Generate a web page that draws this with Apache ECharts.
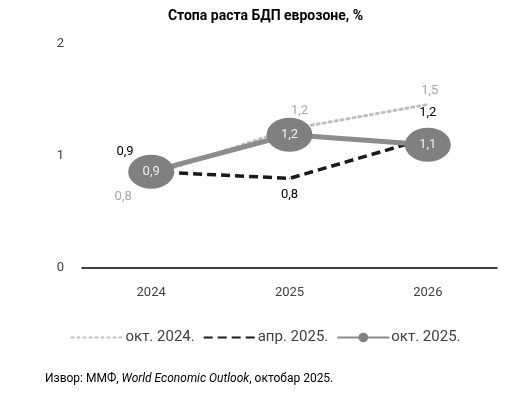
<!DOCTYPE html>
<html><head><meta charset="utf-8">
<script src="https://cdn.jsdelivr.net/npm/echarts@6/dist/echarts.min.js"></script>
<style>html,body{margin:0;padding:0;background:#fff}#c{width:531px;height:394px}</style>
</head><body><div id="c"></div>
<script>
const categories = ['2024', '2025', '2026'];
const seriesNames = ['окт. 2024.', 'апр. 2025.', 'окт. 2025.'];
const oct2024 = [0.83, 1.24, 1.46];
const apr2025 = [0.86, 0.80, 1.16];
const oct2025 = [0.86, 1.19, 1.10];
const yTicks = [0, 1, 2];
const titleText = 'Стопа раста БДП еврозоне, %';
const sourceText = ['Извор: ММФ, ', 'World Economic Outlook', ', октобар 2025.'];

const FONT = 'Roboto';
const fmt = p => p.value.toFixed(1).replace('.', ',');

// label placement styles (per point)
const octLblPos = [{position:'bottom', offset:[-28, 10]}, {position:'top', offset:[10, -6]}, {position:'top', offset:[2, -2]}];
const aprLblPos = [{position:'left', offset:[-12, -20]}, {position:'bottom', offset:[0, 4]}, {position:'top', offset:[0, -13]}];

function mk(vals, pos) {
  return vals.map((v, i) => ({value: v, label: Object.assign({show: true}, pos[i])}));
}

const chart = echarts.init(document.getElementById('c'), null, {renderer: 'canvas'});
chart.setOption({
  animation: false,
  textStyle: {fontFamily: FONT},
  title: {text: titleText, left: 'center', top: 4,
    textStyle: {fontFamily: FONT, fontSize: 14, fontWeight: 'bold', color: '#000'}},
  grid: {left: 82, right: 34, top: 44, bottom: 126},
  legend: {
    bottom: 44, left: 'center', itemWidth: 52, itemHeight: 12, itemGap: 8,
    textStyle: {fontFamily: FONT, fontSize: 15, color: '#404040', padding: [0, 0, 0, -3]},
    data: [
      {name: seriesNames[0], itemStyle: {opacity: 0}},
      {name: seriesNames[1], itemStyle: {opacity: 0}},
      {name: seriesNames[2]}
    ]
  },
  graphic: [{
    type: 'text', left: 45, top: 373,
    style: {
      rich: {n: {fontFamily: FONT, fontSize: 12, fill: '#000'}, i: {fontFamily: FONT, fontSize: 12, fontStyle: 'italic', fill: '#000'}},
      text: '{n|' + sourceText[0] + '}{i|' + sourceText[1] + '}{n|' + sourceText[2] + '}'
    }
  }],
  xAxis: {
    type: 'category', data: categories, boundaryGap: true,
    axisLine: {lineStyle: {color: '#000', width: 1.5}},
    axisTick: {show: false},
    axisLabel: {fontFamily: FONT, fontSize: 13, color: '#404040', margin: 18}
  },
  yAxis: {
    type: 'value', min: 0, max: 2, interval: 1,
    axisLine: {show: false}, axisTick: {show: false}, splitLine: {show: false},
    axisLabel: {fontFamily: FONT, fontSize: 13, color: '#404040', margin: 18,
      formatter: v => yTicks.includes(v) ? String(v) : ''}
  },
  series: [
    {
      name: seriesNames[0], type: 'line', data: mk(oct2024, octLblPos), z: 2,
      symbol: 'circle', symbolSize: 1, showSymbol: true,
      lineStyle: {color: '#bfbfbf', width: 3, type: [2, 4], cap: 'round'},
      itemStyle: {color: '#bfbfbf'},
      label: {formatter: fmt, color: '#a6a6a6', fontFamily: FONT, fontSize: 13}
    },
    {
      name: seriesNames[1], type: 'line', data: mk(apr2025, aprLblPos), z: 3,
      symbol: 'circle', symbolSize: 1, showSymbol: true,
      lineStyle: {color: '#1a1a1a', width: 3.5, type: [9, 5]},
      itemStyle: {color: '#1a1a1a'},
      label: {formatter: fmt, color: '#000', fontFamily: FONT, fontSize: 13}
    },
    {
      name: seriesNames[2], type: 'line', data: oct2025, z: 4,
      symbol: 'circle', symbolSize: [46, 34], showSymbol: true,
      lineStyle: {color: '#8c8c8c', width: 5},
      itemStyle: {color: '#808080'},
      label: {show: true, position: 'inside', formatter: fmt, color: '#eeeeee', fontFamily: FONT, fontSize: 13}
    }
  ]
});
</script></body></html>
